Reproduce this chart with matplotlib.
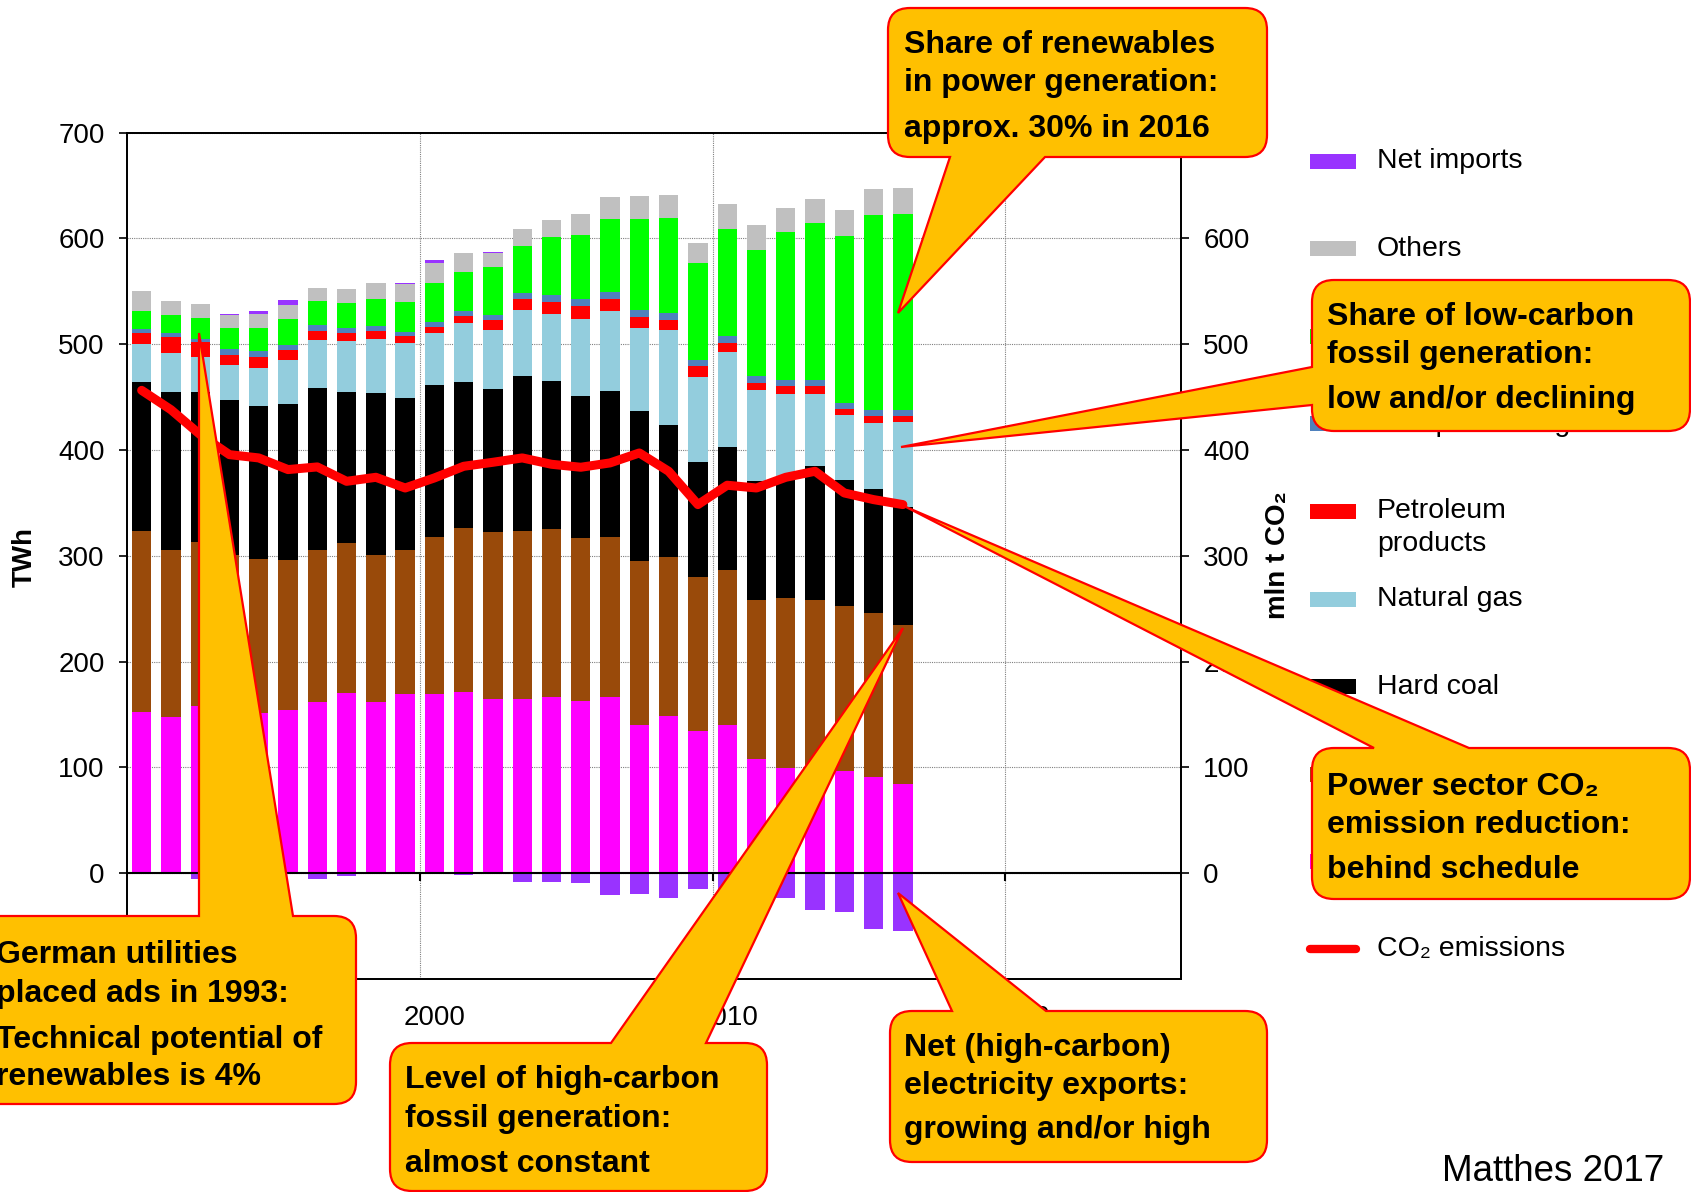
import numpy as np
import matplotlib
matplotlib.use("Agg")
import matplotlib.pyplot as plt
from matplotlib.path import Path
from matplotlib.patches import PathPatch, Rectangle

plt.rcParams["font.family"] = ["Liberation Sans", "DejaVu Sans"]

# German gross power generation by source (TWh) and power sector CO2 (mln t)
years = np.arange(1990, 2017)
nuclear = [152.6, 147.3, 158.3, 153.0, 151.1, 153.9, 161.5, 170.3, 161.5, 169.7, 169.3, 171.2, 164.6, 164.6,
           166.8, 162.7, 166.8, 140.0, 148.5, 134.3, 140.0, 107.5, 99.3, 97.3, 96.5, 91.1, 84.2]
lignite = [171.3, 158.6, 155.2, 148.2, 146.3, 142.5, 144.4, 141.9, 139.7, 136.2, 148.9, 154.9, 158.3, 158.6,
           158.3, 154.2, 151.4, 155.5, 150.8, 146.1, 146.7, 150.5, 160.9, 160.7, 156.4, 155.2, 150.4]
hard_coal = [140.3, 149.2, 141.6, 146.0, 144.5, 147.4, 152.7, 142.9, 153.0, 142.9, 142.9, 138.5, 134.4, 146.4,
             140.4, 134.4, 137.9, 141.7, 124.7, 108.0, 116.5, 112.4, 115.0, 127.2, 118.8, 117.2, 111.6]
natural_gas = [35.9, 36.8, 33.1, 32.8, 35.9, 40.9, 45.6, 48.2, 51.0, 52.0, 49.1, 55.4, 56.4, 62.9,
               63.3, 72.7, 75.5, 78.4, 89.0, 80.9, 89.4, 86.0, 77.7, 67.7, 61.1, 62.3, 80.3]
petroleum = [10.4, 15.2, 13.5, 10.0, 10.4, 9.4, 8.2, 7.2, 6.9, 6.6, 5.7, 6.3, 9.1, 10.1,
             11.0, 11.7, 10.7, 10.0, 9.8, 9.7, 8.8, 7.2, 7.3, 7.3, 5.6, 6.0, 5.9]
pumped_storage = [3.8, 3.2, 3.1, 5.1, 5.0, 5.1, 5.4, 4.7, 4.7, 4.1, 5.0, 4.7, 4.7, 5.4,
                  6.3, 6.9, 6.9, 6.9, 6.3, 6.0, 6.6, 6.0, 6.2, 5.6, 5.7, 6.0, 5.4]
renewables = [16.7, 17.0, 20.2, 20.5, 22.4, 24.8, 22.6, 23.3, 25.5, 28.0, 36.5, 37.7, 45.0, 44.4,
              55.4, 60.8, 69.6, 86.0, 90.6, 92.2, 101.3, 119.9, 139.8, 148.6, 158.6, 184.5, 185.4]
others = [18.9, 13.2, 13.2, 11.6, 13.2, 12.9, 12.6, 13.9, 15.1, 17.0, 19.2, 17.7, 13.9, 16.3,
          16.0, 19.5, 20.8, 22.0, 21.1, 18.3, 23.3, 22.7, 22.7, 23.3, 24.0, 24.5, 24.9]
net_imports = [0.0, 0.0, -5.7, 1.3, 2.2, 5.1, -5.7, -2.5, 0.0, 0.9, 3.2, -1.6, 1.2, -8.5,
               -7.9, -8.8, -20.5, -19.6, -23.0, -14.8, -17.0, -6.0, -23.7, -34.7, -36.3, -52.7, -54.6]
co2 = [456.4, 438.1, 414.5, 395.6, 392.5, 381.5, 384.0, 370.4, 374.2, 364.1, 373.6, 384.6, 388.4, 392.5,
       386.5, 383.7, 387.8, 397.2, 379.9, 348.4, 366.7, 364.1, 374.2, 379.9, 359.4, 353.1, 348.4]

stack = [
    ("Nuclear", nuclear, "#FF00FF"),
    ("Lignite", lignite, "#994A0A"),
    ("Hard coal", hard_coal, "#000000"),
    ("Natural gas", natural_gas, "#93CDDD"),
    ("Petroleum\nproducts", petroleum, "#FF0000"),
    ("Pumped storage", pumped_storage, "#4F81BD"),
    ("Renewables", renewables, "#00FF00"),
    ("Others", others, "#C0C0C0"),
]
imports_color = "#9933FF"
co2_color = "#FF0000"

W, H = 1691, 1192
fig = plt.figure(figsize=(W / 100, H / 100), dpi=100)


def px_axes(left, top, right, bottom):
    return fig.add_axes([left / W, 1 - bottom / H, (right - left) / W, (bottom - top) / H])


ax = px_axes(127, 132.6, 1181, 979)
x = years + 0.5
bw = 0.66

base = np.zeros(len(years))
for name, vals, col in stack:
    vals = np.array(vals)
    ax.bar(x, vals, width=bw, bottom=base, color=col, linewidth=0, zorder=2)
    base += vals
imp = np.array(net_imports)
ax.bar(x, np.clip(imp, 0, None), width=bw, bottom=base, color=imports_color, linewidth=0, zorder=2)
ax.bar(x, np.clip(imp, None, 0), width=bw, color=imports_color, linewidth=0, zorder=2)

ax.set_xlim(1990, 2026)
ax.set_ylim(-100, 700)
ax.set_yticks(range(0, 701, 100))
ax.tick_params(axis="y", direction="out", length=6, width=1.2, labelsize=20, pad=10)
ax.set_xticks([2000, 2010, 2020])
ax.tick_params(axis="x", which="major", length=0, labelbottom=False)
ax.set_xticks([1990.5, 2000.5, 2010.5, 2020.5], labels=["1990", "2000", "2010", "2020"], minor=True)
ax.tick_params(axis="x", which="minor", length=0, labelsize=20, pad=19)
ax.grid(True, which="major", linestyle=(0, (1, 1)), color="#808080", linewidth=0.8)
ax.set_axisbelow(True)
ax.axhline(0, color="black", lw=1.5, zorder=3)
ax.vlines([2000, 2010, 2020], -7.5, 0, color="black", lw=1.5, zorder=3)
for s in ax.spines.values():
    s.set_linewidth(1.3)

ax2 = ax.twinx()
ax2.set_ylim(-100, 700)
ax2.set_yticks(range(0, 701, 100))
ax2.tick_params(axis="y", direction="out", length=6, width=1.2, labelsize=20, pad=10)
ax2.plot(x, co2, color=co2_color, lw=6.5, solid_capstyle="round", solid_joinstyle="round", zorder=4)
for s in ax2.spines.values():
    s.set_linewidth(1.3)

# overlay in pixel coordinates for labels, legend and callouts
ov = fig.add_axes([0, 0, 1, 1])
ov.set_xlim(0, W)
ov.set_ylim(H, 0)
ov.axis("off")

ov.text(25, 557, "TWh", rotation=90, ha="center", va="center", fontsize=20, fontweight="bold")
ov.text(1278, 555, "mln t CO₂", rotation=90, ha="center", va="center", fontsize=20, fontweight="bold")

# legend, top entry first
entries = [("Net imports", imports_color)] + [(n, c) for n, _, c in stack[::-1]]
for i, (name, col) in enumerate(entries):
    yc = 161 + 87.6 * i
    ov.add_patch(Rectangle((1310, yc - 7.5), 46, 15, color=col, lw=0, zorder=2))
    for k, line in enumerate(name.split("\n")):
        ov.text(1377, yc + 33 * k, line, ha="left", va="center", fontsize=20.5, zorder=2)
yc = 161 + 87.6 * len(entries)
ov.plot([1310, 1356], [yc, yc], color=co2_color, lw=6, solid_capstyle="round", zorder=2)
ov.text(1377, yc, "CO₂ emissions", ha="left", va="center", fontsize=20.5, zorder=2)

ov.text(1664, 1181, "Matthes 2017", ha="right", va="baseline", fontsize=26.5)

CALLOUT_FS = 23


def callout(box, side, b1, b2, tip, lines, tx, r=22):
    x0, y0, x1, y1 = box
    M, L, C = Path.MOVETO, Path.LINETO, Path.CURVE3
    verts, codes = [(x0 + r, y0)], [M]
    if side == "top":
        verts += [(b1, y0), tip, (b2, y0)]
        codes += [L, L, L]
    verts += [(x1 - r, y0), (x1, y0), (x1, y0 + r), (x1, y1 - r), (x1, y1), (x1 - r, y1)]
    codes += [L, C, C, L, C, C]
    if side == "bottom":
        verts += [(b2, y1), tip, (b1, y1)]
        codes += [L, L, L]
    verts += [(x0 + r, y1), (x0, y1), (x0, y1 - r)]
    codes += [L, C, C]
    if side == "left":
        verts += [(x0, b2), tip, (x0, b1)]
        codes += [L, L, L]
    verts += [(x0, y0 + r), (x0, y0), (x0 + r, y0), (x0 + r, y0)]
    codes += [L, C, C, Path.CLOSEPOLY]
    ov.add_patch(PathPatch(Path(verts, codes), facecolor="#FFC000", edgecolor="#FF0000",
                           lw=1.6, zorder=10, joinstyle="miter"))
    for yb, t in lines:
        ov.text(tx, yb, t, ha="left", va="baseline", fontsize=CALLOUT_FS, fontweight="bold", zorder=11)


callout((888, 8, 1267, 157), "bottom", 950, 1045, (898, 313),
        [(53, "Share of renewables"), (90.5, "in power generation:"),
         (136.5, "approx. 30% in 2016")], 904)
callout((1312, 280, 1690, 431), "left", 367, 405, (901, 447),
        [(325, "Share of low-carbon"), (363, "fossil generation:"), (408, "low and/or declining")], 1327)
callout((1312, 748, 1690, 899), "top", 1374, 1469, (906, 507),
        [(795, "Power sector CO₂"), (833, "emission reduction:"), (878, "behind schedule")], 1327)
callout((-30, 916, 356, 1104), "top", 199, 293, (199, 333),
        [(963, "German utilities"), (1002, "placed ads in 1993:"), (1048, "Technical potential of"),
         (1085, "renewables is 4%")], -4)
callout((390, 1043, 767, 1191), "top", 611, 706, (903, 628),
        [(1088, "Level of high-carbon"), (1127, "fossil generation:"), (1172, "almost constant")], 405)
callout((890, 1011, 1267, 1162), "top", 952, 1046, (898, 893),
        [(1056, "Net (high-carbon)"), (1094, "electricity exports:"), (1138, "growing and/or high")], 904)

fig.savefig("out.png", dpi=100)
